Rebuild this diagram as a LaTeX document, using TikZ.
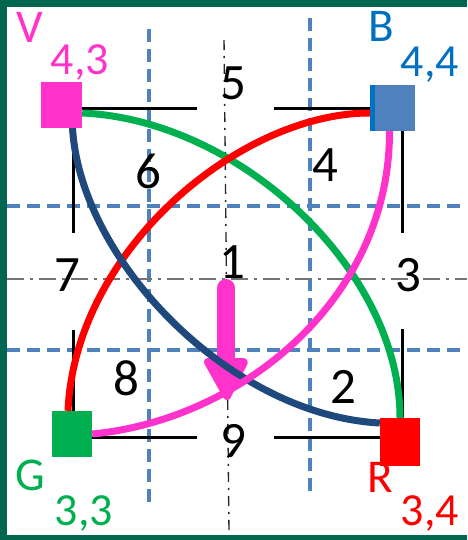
\documentclass[tikz,border=0pt]{standalone}
\usepackage{fontspec}
\setmainfont{Carlito}
\definecolor{framegreen}{RGB}{0,102,80}
\definecolor{magc}{RGB}{255,51,204}
\definecolor{steelb}{RGB}{79,129,189}
\definecolor{labblue}{RGB}{0,112,192}
\definecolor{grn}{RGB}{0,176,80}
\definecolor{navy}{RGB}{31,73,125}
\definecolor{redc}{RGB}{255,0,0}
\begin{document}
\begin{tikzpicture}[x=1pt,y=-1pt,
  sq/.style={rectangle,inner sep=0pt,draw=none},
  curve/.style={line width=7pt},
  blackln/.style={line width=3pt,black},
  bluedash/.style={line width=3.4pt,steelb,dash pattern=on 13pt off 7pt},
  dashdotv/.style={line width=1.4pt,black!85,dash pattern=on 10pt off 6pt on 2pt off 6pt},
  dashdoth/.style={line width=1.4pt,black!55,dash pattern=on 17pt off 6pt on 3pt off 6pt},
  num/.style={font=\fontsize{51}{51}\selectfont,anchor=base,inner sep=0pt,text=black},
  lett/.style={font=\fontsize{47}{47}\selectfont,anchor=base,inner sep=0pt},
  coord/.style={font=\fontsize{46}{46}\selectfont,anchor=base,inner sep=0pt}]
\useasboundingbox (0,0) rectangle (467,540);
\fill[white] (0,0) rectangle (467,540);
% frame
\fill[framegreen] (0,0) rectangle (467,7);
\fill[framegreen] (0,0) rectangle (7,540);
\fill[framegreen] (0,535) rectangle (467,540);
% blue dashed grid
\draw[bluedash] (149,29) -- (149,505);
\draw[bluedash] (310,18) -- (310,495);
\draw[bluedash] (7,206) -- (467,206);
\draw[bluedash] (7,350) -- (467,350);
% center dash-dot lines
\draw[dashdotv] (224,40) -- (229,530);
\draw[dashdoth] (7,279) -- (467,279);
% square nodes (positions)
\node[sq,fill=magc,minimum width=41pt,minimum height=45pt] (V) at (61.5,105) {};
\node[sq,fill=steelb,minimum width=45pt,minimum height=46pt] (B) at (392.5,108) {};
\node[sq,fill=grn,minimum width=40pt,minimum height=46pt] (G) at (72,434) {};
\node[sq,fill=redc,minimum width=40pt,minimum height=48pt] (R) at (400,442) {};
% black frame segments
\draw[blackln] (82,109) -- (197,109);
\draw[blackln] (274,109) -- (371,109);
\draw[blackln] (92,437) -- (197,437);
\draw[blackln] (274,437) -- (380,437);
\draw[blackln] (73,127) -- (73,233);
\draw[blackln] (73,330) -- (73,411);
\draw[blackln] (402,131) -- (402,233);
\draw[blackln] (402,329) -- (402,418);
% central arrow
\draw[magc,line width=18pt,line cap=round] (226,288) -- (226,362);
\filldraw[magc,line width=8pt,line join=round] (208,362) -- (244,362) -- (227,396) -- cycle;
% curves
\draw[curve,grn] ([yshift=-8pt]V.east) .. controls (240,120) and (400,270) .. (R.north);
\draw[curve,redc] ([xshift=-4pt]G.north) .. controls (75,250) and (240,113) .. ([yshift=-5pt]B.west);
\draw[curve,navy] ([xshift=11pt]V.south) .. controls (80,260) and (230,415) .. ([yshift=19pt]R.west);
\draw[curve,magc] (G.east) .. controls (240,420) and (390,300) .. ([xshift=-3pt]B.south);
% redraw squares on top
\fill[magc] (V.south west) rectangle (V.north east);
\fill[steelb] (B.south west) rectangle (B.north east);
\fill[labblue] (B.south west) rectangle ([xshift=5pt]B.north west);
\fill[grn] (G.south west) rectangle (G.north east);
\fill[redc] (R.south west) rectangle (R.north east);
% labels
\node[lett,text=magc] (lV) at (30,43) {V};
\node[coord,text=magc] (cV) at (80,75) {4,3};
\node[lett,text=labblue] (lB) at (381,42) {B};
\node[coord,text=labblue] (cB) at (430,77) {4,4};
\node[lett,text=grn] (lG) at (30,490) {G};
\node[coord,text=grn] (cG) at (84,525) {3,3};
\node[lett,text=redc] (lR) at (380,492) {R};
\node[coord,text=redc] (cR) at (430,525) {3,4};
% numbers
\node[num] (n5) at (233,100) {5};
\node[num] (n6) at (148,188) {6};
\node[num] (n4) at (325,182) {4};
\node[num] (n7) at (67,291) {7};
\node[num] (n1) at (232,278) {1};
\node[num] (n3) at (408,291) {3};
\node[num] (n8) at (126,395) {8};
\node[num] (n9) at (233,457) {9};
\node[num] (n2) at (343,403) {2};
\end{tikzpicture}
\end{document}
